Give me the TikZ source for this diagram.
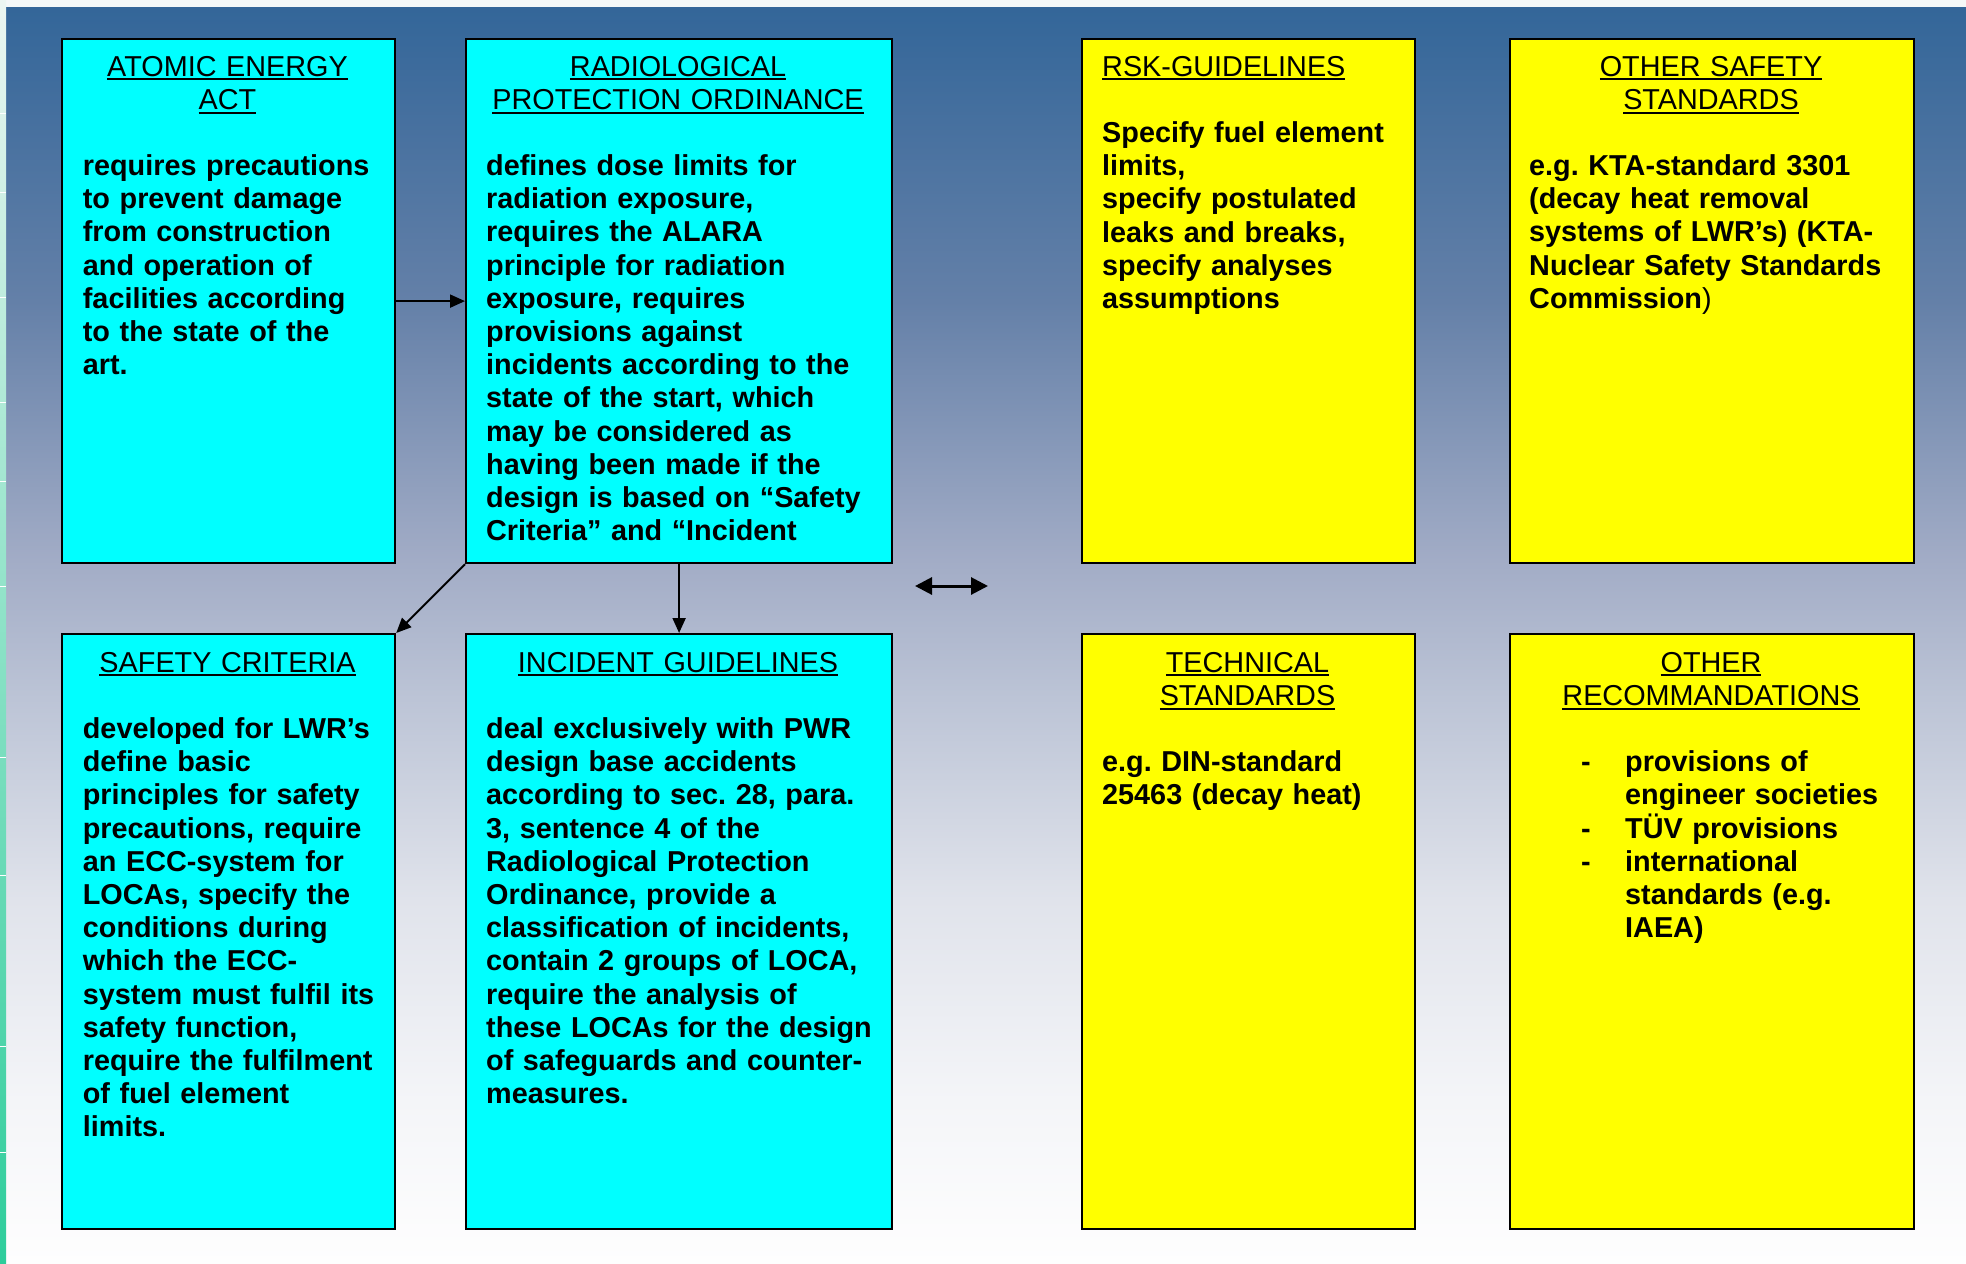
\documentclass[tikz,border=0pt]{standalone}
\usepackage{fontspec}
\setmainfont{Liberation Sans}
\usetikzlibrary{arrows.meta}
\frenchspacing
\definecolor{bgA}{RGB}{51,102,153}
\definecolor{bgB}{RGB}{100,128,168}
\definecolor{bgC}{RGB}{162,172,198}
\definecolor{bgD}{RGB}{188,196,214}
\definecolor{bgE}{RGB}{224,227,235}
\definecolor{bgF}{RGB}{244,245,248}
\definecolor{bgG}{RGB}{254,254,254}
\definecolor{topstrip}{RGB}{244,248,248}
\definecolor{stripTop}{RGB}{236,246,242}
\definecolor{stripMid}{RGB}{160,228,200}
\definecolor{stripBot}{RGB}{45,205,155}
\definecolor{cyanbox}{RGB}{0,255,255}
\definecolor{yellowbox}{RGB}{255,255,0}
\pgfdeclareverticalshading{bgshade}{100bp}{color(0bp)=(bgG); color(25bp)=(bgG); color(31.5bp)=(bgF); color(39.5bp)=(bgE); color(47.5bp)=(bgD); color(53bp)=(bgC); color(63.3bp)=(bgB); color(75bp)=(bgA); color(100bp)=(bgA)}
\newcommand\hdl[1]{\leavevmode\setbox0=\hbox{#1}\rlap{\rule[-4.3pt]{\wd0}{2pt}}\box0}
\tikzset{
  cbox/.style={draw=black, line width=2.2pt, fill=cyanbox, rectangle, inner sep=0pt, anchor=north west},
  ybox/.style={cbox, fill=yellowbox},
  hd/.style={inner sep=0pt, anchor=base, align=center, font=\fontsize{28.8}{33.2}\selectfont},
  hdleft/.style={inner sep=0pt, anchor=base west, align=left, font=\fontsize{28.8}{33.2}\selectfont},
  bd/.style={inner sep=0pt, anchor=base west, align=left, font=\fontsize{28.8}{33.2}\selectfont\bfseries},
  arr/.style={line width=2pt, -{Triangle[length=15pt,width=13pt]}},
  darr/.style={line width=3pt, {Triangle[length=17pt,width=17pt]}-{Triangle[length=17pt,width=17pt]}},
}
\begin{document}
\begin{tikzpicture}[x=1pt,y=-1pt]
\useasboundingbox (0,0) rectangle (1966,1264);
% background
\fill[topstrip] (0,0) rectangle (1966,1264);
\shade[shading=bgshade] (6,7) rectangle (1966,1264);
\shade[top color=stripTop, middle color=stripMid, bottom color=stripBot] (0,0) rectangle (6,1264);
\foreach \yy in {113,192,297,402,481,586,757,875,1046,1152}
  \draw[white, line width=1pt] (0,\yy) -- (6,\yy);

% boxes
\node[cbox, minimum width=333pt, minimum height=524pt] (b1) at (61,38) {};
\node[cbox, minimum width=426pt, minimum height=524pt] (b2) at (465,38) {};
\node[ybox, minimum width=333pt, minimum height=524pt] (b3) at (1081,38) {};
\node[ybox, minimum width=404pt, minimum height=524pt] (b4) at (1509,38) {};
\node[cbox, minimum width=333pt, minimum height=595pt] (b5) at (61,633) {};
\node[cbox, minimum width=426pt, minimum height=595pt] (b6) at (465,633) {};
\node[ybox, minimum width=333pt, minimum height=595pt] (b7) at (1081,633) {};
\node[ybox, minimum width=404pt, minimum height=595pt] (b8) at (1509,633) {};

% box 1
\node[hd, text width=333pt] (b1h) at (227.5,76) {\hdl{ATOMIC ENERGY}\\\hdl{ACT}};
\node[bd, text width=305pt] (b1t) at (82.7,175.5) {requires precautions\\to prevent damage\\from construction\\and operation of\\facilities according\\to the state of the\\art.};

% box 2
\node[hd, text width=426pt] (b2h) at (678,76) {\hdl{RADIOLOGICAL}\\\hdl{PROTECTION ORDINANCE}};
\node[bd, text width=398pt] (b2t) at (486,175.5) {defines dose limits for\\radiation exposure,\\requires the ALARA\\principle for radiation\\exposure, requires\\provisions against\\incidents according to the\\state of the start, which\\may be considered as\\having been made if the\\design is based on “Safety\\Criteria” and “Incident};

% box 3
\node[hdleft, text width=300pt] (b3h) at (1102,76) {\hdl{RSK-GUIDELINES}};
\node[bd, text width=300pt] (b3t) at (1102,142.4) {Specify fuel element\\limits,\\specify postulated\\leaks and breaks,\\specify analyses\\assumptions};

% box 4
\node[hd, text width=404pt] (b4h) at (1711,76) {\hdl{OTHER SAFETY}\\\hdl{STANDARDS}};
\node[bd, text width=375pt] (b4t) at (1529,175.5) {e.g. KTA-standard 3301\\(decay heat removal\\systems of LWR’s) (KTA-\\Nuclear Safety Standards\\Commission{\mdseries)}};

% box 5
\node[hd, text width=333pt] (b5h) at (227.5,672) {\hdl{SAFETY CRITERIA}};
\node[bd, text width=305pt] (b5t) at (82.7,738.4) {developed for LWR’s\\define basic\\principles for safety\\precautions, require\\an ECC-system for\\LOCAs, specify the\\conditions during\\which the ECC-\\system must fulfil its\\safety function,\\require the fulfilment\\of fuel element\\limits.};

% box 6
\node[hd, text width=426pt] (b6h) at (678,672) {\hdl{INCIDENT GUIDELINES}};
\node[bd, text width=398pt] (b6t) at (486,738.4) {deal exclusively with PWR\\design base accidents\\according to sec. 28, para.\\3, sentence 4 of the\\Radiological Protection\\Ordinance, provide a\\classification of incidents,\\contain 2 groups of LOCA,\\require the analysis of\\these LOCAs for the design\\of safeguards and counter-\\measures.};

% box 7
\node[hd, text width=333pt] (b7h) at (1247.5,672) {\hdl{TECHNICAL}\\\hdl{STANDARDS}};
\node[bd, text width=300pt] (b7t) at (1102,771.6) {e.g. DIN-standard\\25463 (decay heat)};

% box 8
\node[hd, text width=404pt] (b8h) at (1711,672) {\hdl{OTHER}\\\hdl{RECOMMANDATIONS}};
\node[bd, text width=320pt] (b8t) at (1581,771.6) {\makebox[44pt][l]{-}provisions of\\\hspace*{44pt}engineer societies\\\makebox[44pt][l]{-}TÜV provisions\\\makebox[44pt][l]{-}international\\\hspace*{44pt}standards (e.g.\\\hspace*{44pt}IAEA)};

% connectors
\draw[arr] (b1.east) -- (b2.west);
\draw[arr] (b2.south west) -- (b5.north east);
\draw[arr] (b2.south) -- (b6.north);
\coordinate (da1) at (915,586);
\coordinate (da2) at (988,586);
\draw[darr] (da1) -- (da2);
\end{tikzpicture}
\end{document}
